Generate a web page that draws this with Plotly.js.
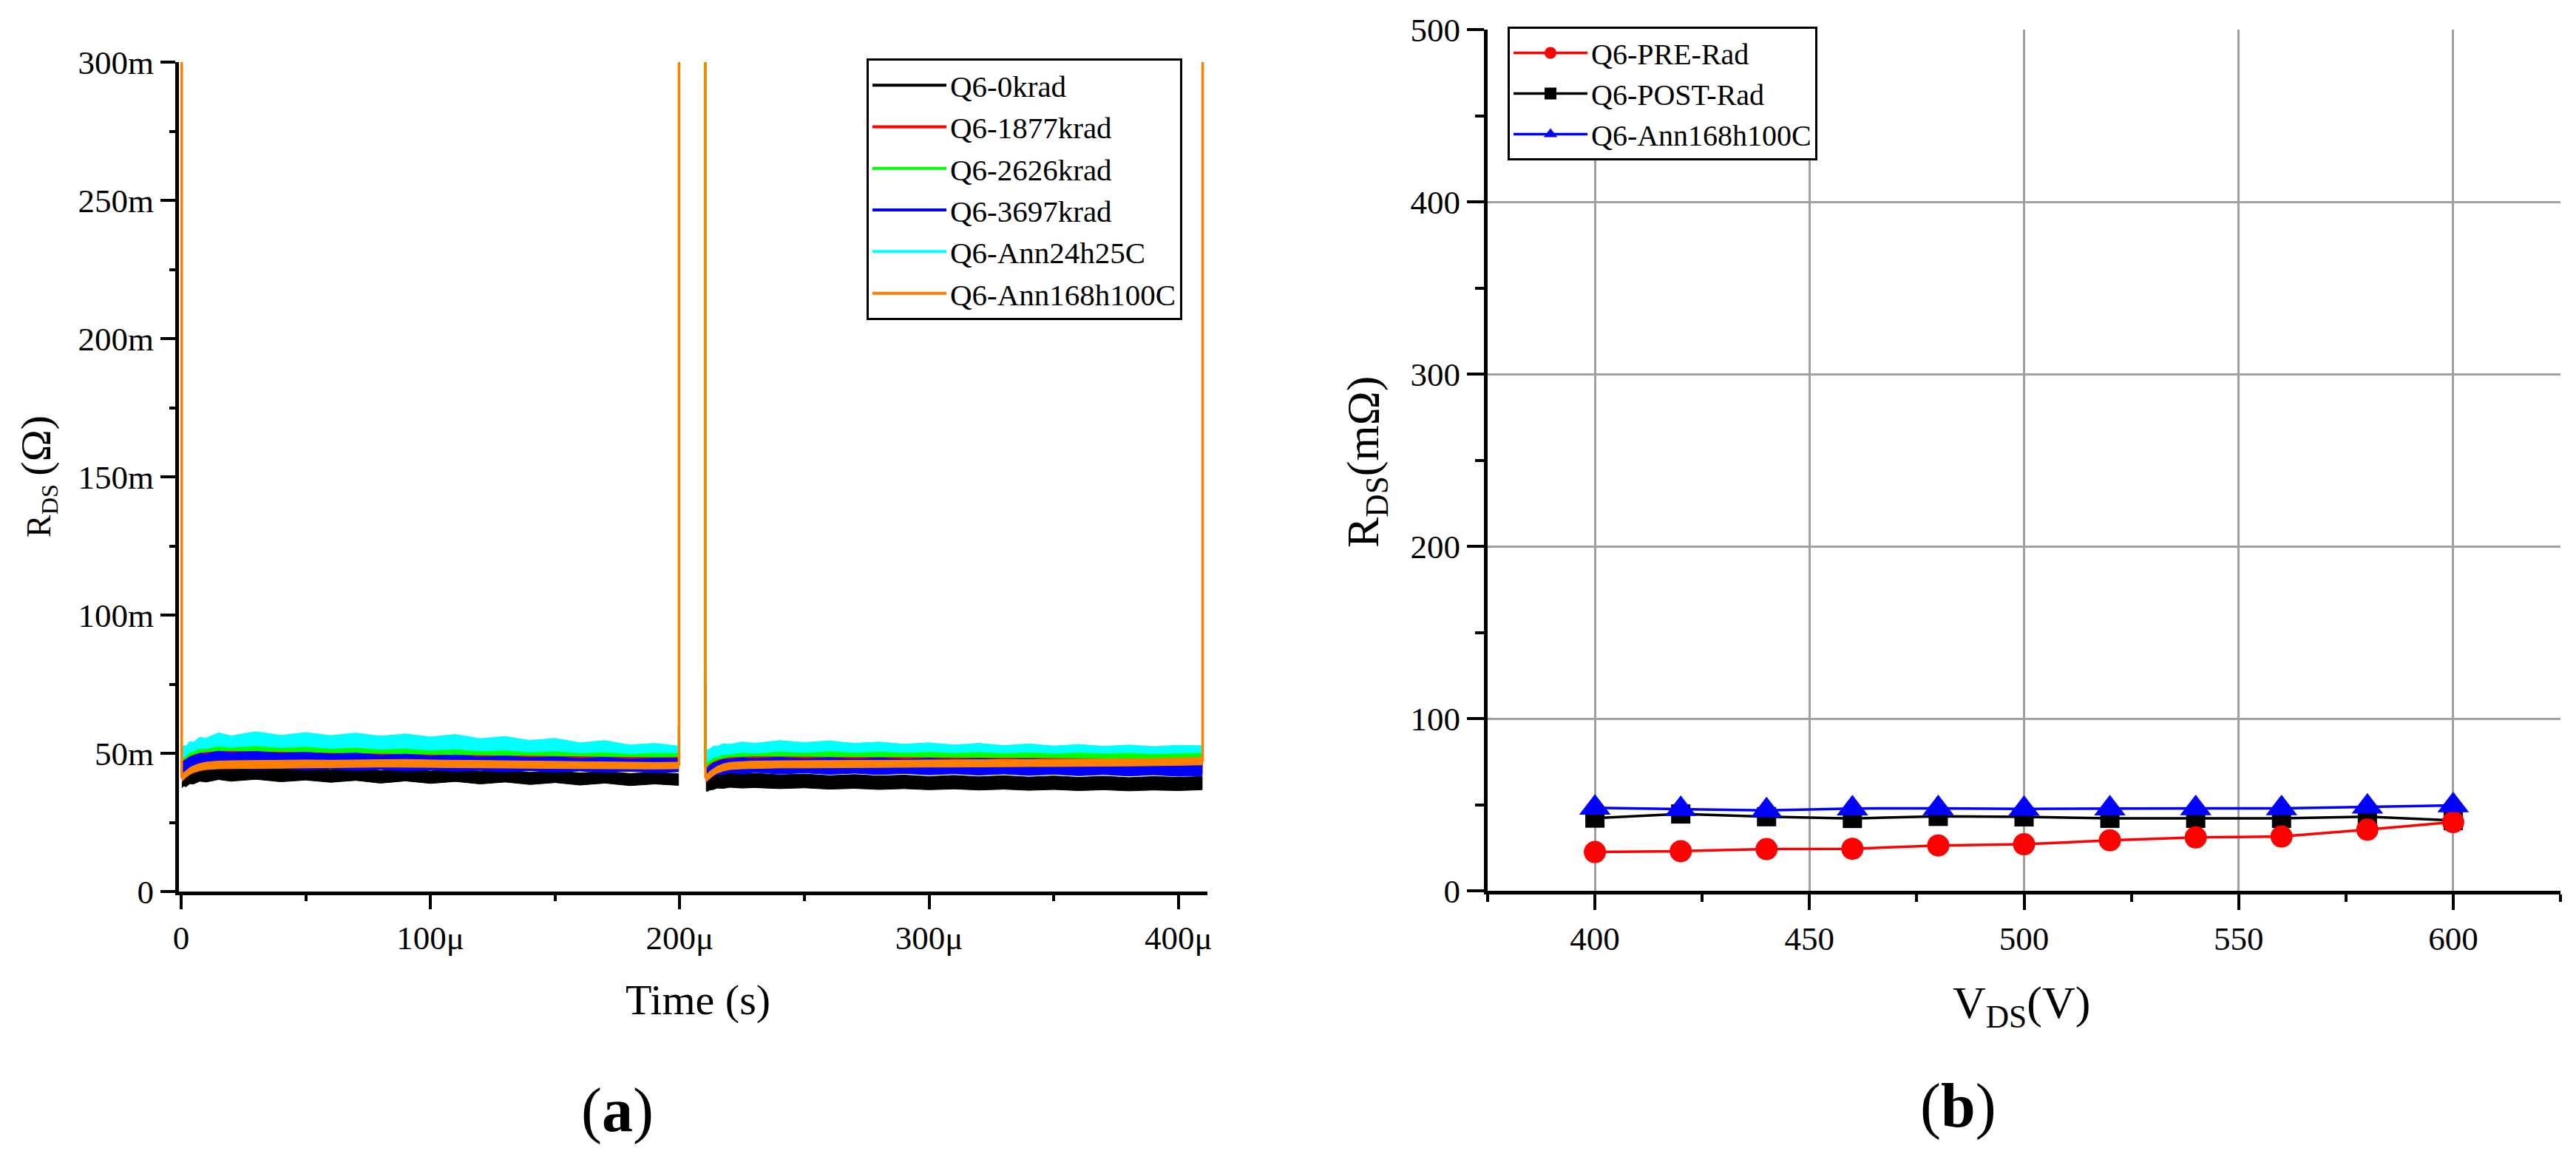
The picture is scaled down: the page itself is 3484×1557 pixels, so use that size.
<!DOCTYPE html>
<html>
<head>
<meta charset="utf-8">
<script src="https://cdn.plot.ly/plotly-3.0.1.min.js"></script>
<style>
  html, body { margin: 0; padding: 0; background: #fff; }
  #chart { width: 3484px; height: 1557px; }
</style>
</head>
<body>
<div id="chart"></div>
<script>
// ---------- panel (a): RDS vs time (time in µs, RDS in mΩ) ----------
const seriesNames = ["Q6-0krad", "Q6-1877krad", "Q6-2626krad", "Q6-3697krad", "Q6-Ann24h25C", "Q6-Ann168h100C"];
const seriesColors = ["#000000", "#ff0000", "#00ff00", "#0000ff", "#00ffff", "#ff8000"];

// two switching pulses: 0..200 µs and 210..410 µs
const tSeg1 = [0.3, 1, 2, 3.5, 5, 7.5, 10, 15, 20, 30, 40, 50, 60, 70, 80, 90, 100, 110, 120, 130, 140, 150, 160, 170, 180, 190, 199.5];
const tSeg2 = [210.5, 211, 212, 213.5, 215, 217.5, 220, 225, 230, 240, 250, 260, 270, 280, 290, 300, 310, 320, 330, 340, 350, 360, 370, 380, 390, 400, 409.5];

// upper / lower edge of each noisy trace
const hi1_0krad = [41.0, 41.8, 41.6, 43.0, 43.2, 44.2, 44.0, 45.1, 44.5, 45.0, 44.3, 44.8, 44.1, 44.6, 43.8, 44.4, 43.6, 44.1, 43.4, 43.9, 43.1, 43.6, 42.9, 43.4, 42.7, 43.1, 42.6];
const lo1_0krad = [37.5, 38.2, 37.9, 39.0, 38.9, 39.9, 39.6, 40.5, 39.9, 40.6, 39.7, 40.3, 39.5, 40.2, 39.2, 40.0, 39.1, 39.8, 38.9, 39.6, 38.7, 39.4, 38.5, 39.2, 38.3, 38.9, 38.4];
const hi2_0krad = [42.8, 42.4, 42.6, 42.3, 42.7, 42.5, 42.9, 42.6, 42.8, 42.2, 42.5, 41.9, 42.3, 41.8, 42.1, 41.6, 42.0, 41.5, 41.9, 41.4, 41.8, 41.3, 41.7, 41.2, 41.6, 41.3, 41.6];
const lo2_0krad = [36.4, 36.2, 36.7, 36.9, 37.4, 37.3, 37.7, 37.4, 37.6, 37.2, 37.5, 37.0, 37.3, 36.9, 37.2, 36.8, 37.1, 36.7, 37.0, 36.6, 36.9, 36.5, 36.8, 36.4, 36.7, 36.5, 36.8];

const hi1_1877 = [46.5, 47.3, 48.0, 48.8, 49.4, 49.9, 50.3, 50.6, 50.7, 50.5, 50.4, 50.2, 50.0, 49.9, 49.7, 49.6, 49.4, 49.3, 49.1, 49.0, 48.9, 48.8, 48.7, 48.6, 48.5, 48.4, 48.5];
const lo1_1877 = [42.0, 43.0, 43.8, 44.4, 44.8, 45.1, 45.3, 45.4, 45.4, 45.3, 45.2, 45.1, 45.0, 44.9, 44.8, 44.7, 44.6, 44.5, 44.4, 44.4, 44.3, 44.2, 44.2, 44.1, 44.1, 44.0, 44.1];
const hi2_1877 = [44.5, 45.0, 46.0, 46.8, 47.4, 48.0, 48.4, 48.6, 48.7, 48.7, 48.6, 48.6, 48.5, 48.5, 48.4, 48.4, 48.3, 48.3, 48.2, 48.2, 48.1, 48.1, 48.0, 48.0, 47.9, 47.9, 48.0];
const lo2_1877 = [40.0, 40.5, 41.5, 42.3, 42.9, 43.3, 43.5, 43.6, 43.6, 43.6, 43.5, 43.5, 43.4, 43.4, 43.3, 43.3, 43.2, 43.2, 43.1, 43.1, 43.0, 43.0, 42.9, 42.9, 42.8, 42.8, 42.9];

const hi1_2626 = [47.0, 48.2, 48.8, 50.2, 50.5, 51.6, 51.4, 52.4, 51.9, 52.5, 51.8, 52.2, 51.5, 51.9, 51.2, 51.6, 50.9, 51.3, 50.6, 50.9, 50.2, 50.6, 49.9, 50.3, 49.6, 50.0, 49.9];
const lo1_2626 = [43.0, 44.0, 44.8, 45.5, 46.0, 46.4, 46.7, 46.9, 47.0, 46.9, 46.8, 46.6, 46.5, 46.4, 46.2, 46.1, 46.0, 45.9, 45.8, 45.7, 45.6, 45.5, 45.4, 45.3, 45.2, 45.1, 45.2];
const hi2_2626 = [46.0, 46.6, 47.2, 48.2, 48.4, 49.4, 49.3, 50.1, 49.7, 50.5, 50.0, 50.6, 50.1, 50.5, 50.0, 50.4, 49.9, 50.3, 49.8, 50.2, 49.7, 50.1, 49.7, 50.0, 49.6, 49.9, 50.0];
const lo2_2626 = [41.0, 41.5, 42.3, 43.0, 43.5, 44.0, 44.3, 44.5, 44.6, 44.7, 44.7, 44.8, 44.8, 44.7, 44.8, 44.7, 44.8, 44.7, 44.8, 44.7, 44.8, 44.7, 44.8, 44.7, 44.8, 44.7, 44.8];

const hi1_3697 = [46.0, 47.2, 47.6, 48.8, 49.0, 50.0, 49.8, 50.8, 50.3, 50.7, 50.0, 50.4, 49.7, 50.1, 49.3, 49.7, 49.0, 49.4, 48.7, 49.0, 48.4, 48.7, 48.1, 48.5, 47.9, 48.2, 48.1];
const lo1_3697 = [41.5, 42.5, 43.2, 43.6, 44.3, 44.2, 44.8, 44.4, 44.8, 44.2, 44.6, 44.0, 44.4, 43.8, 44.2, 43.6, 44.0, 43.5, 43.8, 43.3, 43.7, 43.2, 43.6, 43.1, 43.5, 43.0, 43.3];
const hi2_3697 = [44.0, 44.6, 45.4, 46.5, 46.9, 47.8, 47.9, 48.4, 48.1, 48.5, 48.0, 48.4, 47.9, 48.3, 47.8, 48.2, 47.8, 48.1, 47.7, 48.0, 47.6, 47.9, 47.5, 47.8, 47.4, 47.7, 47.6];
const lo2_3697 = [39.5, 40.0, 41.0, 41.6, 42.4, 42.3, 43.0, 42.6, 43.1, 42.5, 42.9, 42.4, 42.8, 42.3, 42.7, 42.2, 42.6, 42.1, 42.5, 42.0, 42.4, 41.9, 42.3, 41.8, 42.2, 41.7, 41.9];

const hi1_ann24 = [51.5, 52.8, 52.6, 54.2, 54.0, 55.8, 55.4, 57.4, 56.3, 57.8, 56.5, 57.5, 56.4, 57.3, 56.2, 57.0, 55.9, 56.8, 55.3, 56.1, 54.6, 55.4, 53.8, 54.6, 53.0, 53.6, 52.6];
const lo1_ann24 = [46.0, 47.0, 48.0, 48.8, 49.5, 50.0, 50.5, 51.0, 51.2, 51.3, 51.2, 51.0, 50.9, 50.7, 50.6, 50.4, 50.2, 50.0, 49.8, 49.6, 49.4, 49.2, 49.0, 48.8, 48.6, 48.4, 48.3];
const hi2_ann24 = [50.0, 51.2, 51.6, 52.6, 52.5, 53.5, 53.2, 54.1, 53.6, 54.6, 53.9, 54.5, 53.6, 54.1, 53.3, 53.8, 53.0, 53.6, 52.8, 53.4, 52.6, 53.2, 52.5, 53.0, 52.4, 52.9, 52.7];
const lo2_ann24 = [45.0, 46.0, 46.8, 47.3, 47.7, 48.0, 48.2, 48.3, 48.4, 48.5, 48.5, 48.4, 48.3, 48.2, 48.1, 48.0, 47.9, 47.9, 47.8, 47.8, 47.7, 47.7, 47.6, 47.6, 47.6, 47.6, 47.6];

const hi1_ann168 = [42.5, 43.0, 43.8, 44.8, 45.5, 46.3, 46.8, 47.2, 47.3, 47.4, 47.5, 47.6, 47.5, 47.6, 47.7, 47.8, 47.6, 47.5, 47.4, 47.3, 47.2, 47.0, 46.9, 46.8, 46.8, 46.7, 46.8];
const lo1_ann168 = [39.8, 40.5, 41.3, 42.3, 43.0, 43.7, 44.1, 44.4, 44.5, 44.6, 44.7, 44.8, 44.8, 44.9, 45.0, 45.0, 44.9, 44.8, 44.7, 44.6, 44.6, 44.5, 44.4, 44.4, 44.3, 44.3, 44.4];
const hi2_ann168 = [43.0, 42.5, 43.5, 44.5, 45.3, 46.2, 46.7, 47.0, 47.2, 47.3, 47.3, 47.4, 47.4, 47.5, 47.5, 47.6, 47.6, 47.7, 47.7, 47.8, 47.8, 47.9, 47.9, 48.0, 48.1, 48.3, 48.5];
const lo2_ann168 = [39.5, 39.8, 40.8, 42.0, 42.8, 43.6, 44.1, 44.4, 44.6, 44.7, 44.7, 44.8, 44.8, 44.9, 44.9, 45.0, 45.0, 45.1, 45.1, 45.2, 45.2, 45.3, 45.3, 45.4, 45.5, 45.6, 45.8];

// switching spikes (µs, mΩ); tops run off the 300m scale
const spikeT_ann168 = [0.25, 199.7, 210.3, 409.7];
const spikeLo_ann168 = [41, 45.5, 41, 47];
const spikeHi_ann168 = [400, 400, 400, 400];
const spikeT_2626 = [210.15];
const spikeLo_2626 = [45];
const spikeHi_2626 = [400];
const spikeT_ann24 = [199.6, 210.4];
const spikeLo_ann24 = [50, 48];
const spikeHi_ann24 = [60, 75];

const timeTickVals = [0, 100, 200, 300, 400];
const timeTickText = ["0", "100μ", "200μ", "300μ", "400μ"];
const timeMinorVals = [50, 150, 250, 350];
const rdsTickVals = [0, 50, 100, 150, 200, 250, 300];
const rdsTickText = ["0", "50m", "100m", "150m", "200m", "250m", "300m"];
const rdsMinorVals = [25, 75, 125, 175, 225, 275];

// ---------- panel (b): RDS vs VDS ----------
const vds = [400, 420, 440, 460, 480, 500, 520, 540, 560, 580, 600];
const rdsPre = [22.5, 23.0, 24.2, 24.4, 26.3, 27.0, 29.3, 31.0, 31.5, 35.5, 39.9];
const rdsPost = [42.2, 44.6, 43.0, 42.0, 43.2, 42.9, 42.1, 42.1, 42.1, 43.0, 40.8];
const rdsAnn = [48.2, 47.4, 46.7, 47.8, 47.9, 47.5, 47.8, 47.9, 47.9, 48.8, 49.6];

const FONT = "Liberation Serif";
const W = 3484, H = 1557;
const px = (x) => x / W;
const py = (y) => 1 - y / H;

function band(t, hi, lo, color) {
  return {
    type: "scatter", mode: "lines", xaxis: "x", yaxis: "y",
    x: t.concat(t.slice().reverse()).map((v) => v * 1e-6),
    y: hi.concat(lo.slice().reverse()).map((v) => v * 1e-3),
    fill: "toself", fillcolor: color, line: { color, width: 1 },
    showlegend: false, hoverinfo: "skip",
  };
}

function spikes(t, lo, hi, color) {
  const x = [], y = [];
  t.forEach((v, i) => {
    x.push(v * 1e-6, v * 1e-6, null);
    y.push(lo[i] * 1e-3, hi[i] * 1e-3, null);
  });
  return {
    type: "scatter", mode: "lines", xaxis: "x", yaxis: "y", x, y,
    line: { color, width: 3.5 }, showlegend: false, hoverinfo: "skip",
  };
}

const bands = {
  0: [[hi1_0krad, lo1_0krad], [hi2_0krad, lo2_0krad]],
  1: [[hi1_1877, lo1_1877], [hi2_1877, lo2_1877]],
  2: [[hi1_2626, lo1_2626], [hi2_2626, lo2_2626]],
  3: [[hi1_3697, lo1_3697], [hi2_3697, lo2_3697]],
  4: [[hi1_ann24, lo1_ann24], [hi2_ann24, lo2_ann24]],
  5: [[hi1_ann168, lo1_ann168], [hi2_ann168, lo2_ann168]],
};

const traces = [];

// legend entries for panel (a)
seriesNames.forEach((name, i) => {
  traces.push({
    type: "scatter", mode: "lines", xaxis: "x", yaxis: "y",
    x: [null], y: [null], name, legend: "legend",
    line: { color: seriesColors[i], width: 4 },
  });
});

// drawing order back to front
const drawOrder = [0, 4, 2, 1, 3, 5];
for (const i of drawOrder) {
  traces.push(band(tSeg1, bands[i][0][0], bands[i][0][1], seriesColors[i]));
  traces.push(band(tSeg2, bands[i][1][0], bands[i][1][1], seriesColors[i]));
}
traces.push(spikes(spikeT_ann24, spikeLo_ann24, spikeHi_ann24, seriesColors[4]));
traces.push(spikes(spikeT_2626, spikeLo_2626, spikeHi_2626, seriesColors[2]));
traces.push(spikes(spikeT_ann168, spikeLo_ann168, spikeHi_ann168, seriesColors[5]));

// panel (b)
traces.push({
  type: "scatter", mode: "lines+markers", xaxis: "x2", yaxis: "y2", legend: "legend2",
  name: "Q6-POST-Rad", x: vds, y: rdsPost, legendrank: 2,
  line: { color: "#000000", width: 3.5 },
  marker: { symbol: "square", size: 26, color: "#000000" },
});
traces.push({
  type: "scatter", mode: "lines+markers", xaxis: "x2", yaxis: "y2", legend: "legend2",
  name: "Q6-PRE-Rad", x: vds, y: rdsPre, legendrank: 1,
  line: { color: "#ff0000", width: 3.5 },
  marker: { symbol: "circle", size: 30, color: "#ff0000" },
});
traces.push({
  type: "scatter", mode: "lines+markers", xaxis: "x2", yaxis: "y2", legend: "legend2",
  name: "Q6-Ann168h100C", x: vds, y: rdsAnn, legendrank: 3,
  line: { color: "#0000ff", width: 3.5 },
  marker: { symbol: "triangle-up", size: 37, color: "#0000ff" },
});

const axisBase = {
  showline: true, linewidth: 5, linecolor: "#000", zeroline: false,
  ticks: "outside", tickwidth: 4, tickcolor: "#000",
  tickfont: { family: FONT, size: 45, color: "#000" },
};

const layout = {
  width: W, height: H,
  margin: { l: 0, r: 0, t: 0, b: 0 },
  paper_bgcolor: "#fff", plot_bgcolor: "#fff",
  font: { family: FONT, size: 44, color: "#000" },
  showlegend: true,
  xaxis: {
    ...axisBase, anchor: "y",
    domain: [px(242), px(1633)], range: [-0.86e-6, 411.6e-6],
    showgrid: false, ticklen: 19,
    tickmode: "array", tickvals: timeTickVals.map((v) => v * 1e-6), ticktext: timeTickText,
    minor: { tickmode: "array", tickvals: timeMinorVals.map((v) => v * 1e-6), ticks: "outside", ticklen: 8, tickwidth: 4, tickcolor: "#000", showgrid: false },
  },
  yaxis: {
    ...axisBase, anchor: "x",
    domain: [1 - 1206 / H, 1 - 84 / H], range: [0, 0.3],
    showgrid: false, ticklen: 20,
    tickmode: "array", tickvals: rdsTickVals.map((v) => v * 1e-3), ticktext: rdsTickText,
    minor: { tickmode: "array", tickvals: rdsMinorVals.map((v) => v * 1e-3), ticks: "outside", ticklen: 8, tickwidth: 4, tickcolor: "#000", showgrid: false },
  },
  xaxis2: {
    ...axisBase, anchor: "y2",
    domain: [px(2012), px(3463)], range: [375, 625],
    tickmode: "linear", tick0: 400, dtick: 50, ticklen: 21,
    showgrid: true, gridcolor: "#a0a0a0", gridwidth: 3,
    minor: { dtick: 25, tick0: 375, ticks: "outside", ticklen: 10, tickwidth: 4, tickcolor: "#000", showgrid: false },
  },
  yaxis2: {
    ...axisBase, anchor: "x2",
    domain: [1 - 1205 / H, 1 - 40 / H], range: [0, 500],
    tickmode: "linear", tick0: 0, dtick: 100, ticklen: 23,
    showgrid: true, gridcolor: "#a0a0a0", gridwidth: 3,
    minor: { dtick: 50, tick0: 0, ticks: "outside", ticklen: 12, tickwidth: 4, tickcolor: "#000", showgrid: false },
  },
  legend: {
    x: px(1172), y: py(79), xanchor: "left", yanchor: "top",
    bgcolor: "#fff", bordercolor: "#000", borderwidth: 3,
    font: { family: FONT, size: 41, color: "#000" }, itemwidth: 100,
  },
  legend2: {
    x: px(2039), y: py(36), xanchor: "left", yanchor: "top",
    bgcolor: "#fff", bordercolor: "#000", borderwidth: 3,
    font: { family: FONT, size: 40, color: "#000" }, itemwidth: 100,
    traceorder: "normal",
  },
  annotations: [
    { text: "Time (s)", x: px(944), y: py(1352), font: { size: 58 } },
    { text: "R<sub>DS</sub> <span style=\"font-size:58px\">(Ω)</span>", x: px(50), y: py(645), textangle: -90, font: { size: 46 } },
    { text: "(<b>a</b>)", x: px(835), y: py(1502), font: { size: 84 } },
    { text: "V<sub>DS</sub>(V)", x: px(2734), y: py(1360), font: { size: 62 } },
    { text: "R<sub>DS</sub>(mΩ)", x: px(1848), y: py(625), textangle: -90, font: { size: 62 } },
    { text: "(<b>b</b>)", x: px(2648), y: py(1496), font: { size: 84 } },
  ].map((a) => ({
    xref: "paper", yref: "paper", showarrow: false, xanchor: "center", yanchor: "middle",
    ...a, font: { family: FONT, color: "#000", ...a.font },
  })),
};

Plotly.newPlot("chart", traces, layout, { displayModeBar: false, staticPlot: true });
</script>
</body>
</html>
